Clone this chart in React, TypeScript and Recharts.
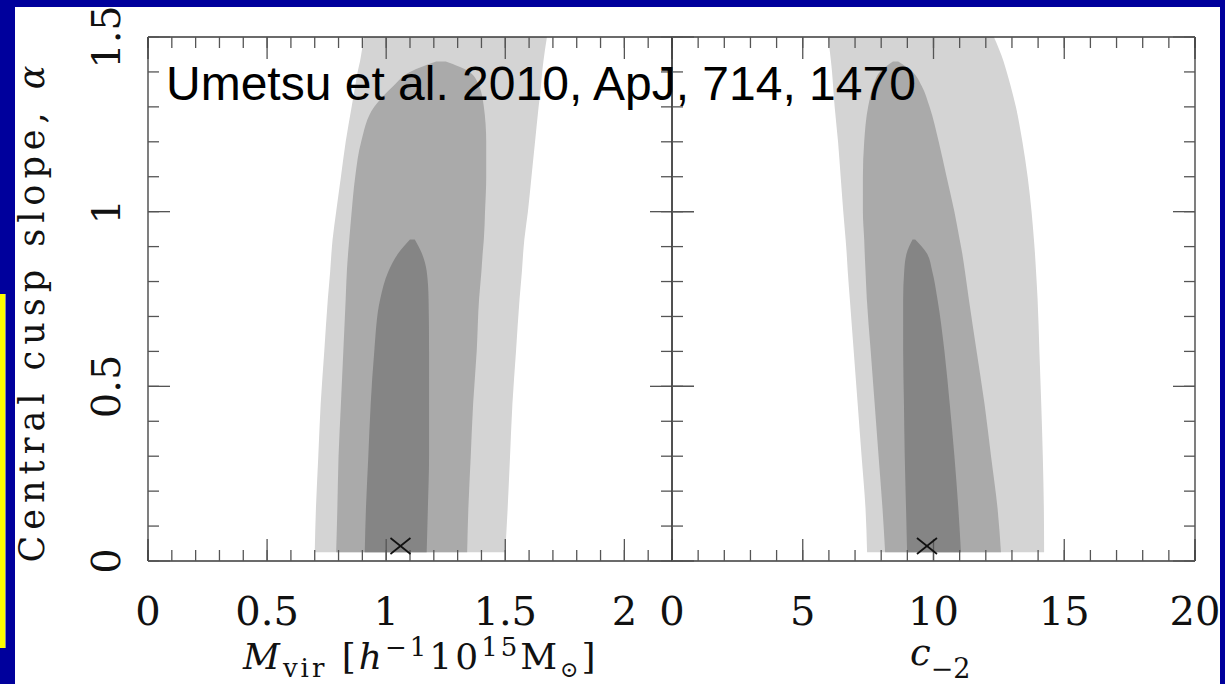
import { ComposedChart, Area, Scatter, XAxis, YAxis } from "recharts"

const BLUE = "#00009c"
const SERIF = "'DejaVu Serif', serif"
const LIGHT = "#d4d4d4"
const MID = "#aaaaaa"
const DARK = "#858585"

// rows in alpha (central cusp slope) where the contour bounds are read
const alphaGrid = [0.025, 0.15, 0.3, 0.45, 0.6, 0.75, 0.83, 0.88, 0.92, 1.0, 1.1, 1.2, 1.3, 1.36, 1.4, 1.43, 1.5]

type Range = [number, number] | null

// left panel, M_vir [left, right] at each alpha row
const mvirOuter: Range[] = [
  [0.70, 1.50], [0.705, 1.51], [0.715, 1.52], [0.725, 1.53], [0.74, 1.545], [0.755, 1.56],
  [0.765, 1.57], [0.77, 1.575], [0.775, 1.58], [0.79, 1.595], [0.81, 1.61], [0.83, 1.625],
  [0.855, 1.64], [0.87, 1.65], [0.88, 1.655], [0.89, 1.66], [0.905, 1.675],
]
const mvirMiddle: Range[] = [
  [0.79, 1.34], [0.795, 1.345], [0.80, 1.355], [0.81, 1.365], [0.82, 1.38], [0.83, 1.39],
  [0.835, 1.40], [0.84, 1.405], [0.845, 1.41], [0.855, 1.415], [0.87, 1.42], [0.895, 1.42],
  [0.95, 1.41], [1.03, 1.39], [1.10, 1.35], [1.21, 1.25], null,
]
const mvirInner: Range[] = [
  [0.91, 1.17], [0.915, 1.175], [0.925, 1.18], [0.935, 1.18], [0.95, 1.18], [0.975, 1.178],
  [1.01, 1.17], [1.05, 1.15], [1.10, 1.12], null, null, null, null, null, null, null, null,
]

// right panel, c_-2 [left, right] at each alpha row
const c2Outer: Range[] = [
  [7.46, 14.23], [7.4, 14.22], [7.25, 14.18], [7.1, 14.12], [6.95, 14.05], [6.8, 13.98],
  [6.72, 13.92], [6.68, 13.88], [6.64, 13.84], [6.55, 13.75], [6.45, 13.6], [6.35, 13.4],
  [6.22, 13.15], [6.16, 12.95], [6.12, 12.8], [6.08, 12.68], [5.97, 12.31],
]
const c2Middle: Range[] = [
  [8.15, 12.58], [8.05, 12.45], [7.9, 12.2], [7.75, 11.95], [7.6, 11.65], [7.45, 11.35],
  [7.4, 11.2], [7.37, 11.1], [7.35, 11.0], [7.3, 10.8], [7.3, 10.5], [7.35, 10.2],
  [7.5, 9.85], [7.7, 9.55], [7.95, 9.2], [8.45, 8.65], null,
]
const c2Inner: Range[] = [
  [8.99, 11.05], [8.95, 10.95], [8.9, 10.8], [8.87, 10.62], [8.84, 10.42], [8.84, 10.15],
  [8.88, 9.95], [8.97, 9.75], [9.2, 9.3], null, null, null, null, null, null, null, null,
]

// best-fit points (the crosses)
const mvirBest = [{ x: 1.06, a: 0.043 }]
const c2Best = [{ x: 9.75, a: 0.043 }]

const mvirTicks = [0, 0.5, 1, 1.5, 2]
const mvirMinor = [0, 0.1, 0.2, 0.3, 0.4, 0.5, 0.6, 0.7, 0.8, 0.9, 1, 1.1, 1.2, 1.3, 1.4, 1.5, 1.6, 1.7, 1.8, 1.9, 2, 2.1, 2.2]
const c2Ticks = [0, 5, 10, 15, 20]
const c2Minor = [0, 1, 2, 3, 4, 5, 6, 7, 8, 9, 10, 11, 12, 13, 14, 15, 16, 17, 18, 19, 20]
const alphaTicks = [0, 0.5, 1, 1.5]
const alphaMinor = [0, 0.1, 0.2, 0.3, 0.4, 0.5, 0.6, 0.7, 0.8, 0.9, 1, 1.1, 1.2, 1.3, 1.4, 1.5]

const frame = { stroke: "#3a3a3a", strokeWidth: 1.3 }
const tickStroke = { stroke: "#555", strokeWidth: 1.3 }
// mirrored tick-only axes: tiny size so they render but do not shift each other
const THIN = 0.01

// tick marks only, no label
const NoLabel = () => <g />

function AlphaTick(props: any) {
  const { x, y, payload } = props
  return (
    <text x={x} y={y} transform={`rotate(-90 ${x} ${y})`} textAnchor="middle"
      fontFamily={SERIF} fontSize={40} fill="#111">
      {String(payload.value)}
    </text>
  )
}

function Cross(props: any) {
  const { cx, cy } = props
  return (
    <g stroke="#111" strokeWidth={1.7}>
      <line x1={cx - 10} y1={cy - 8} x2={cx + 10} y2={cy + 8} />
      <line x1={cx - 10} y1={cy + 8} x2={cx + 10} y2={cy - 8} />
    </g>
  )
}

interface PanelProps {
  outer: Range[]
  middle: Range[]
  inner: Range[]
  best: { x: number; a: number }[]
  domain: [number, number]
  ticks: number[]
  minor: number[]
  left: number
  right: number
  alphaLabels: boolean
}

function Panel(p: PanelProps) {
  const rows = alphaGrid.map((a, i) => ({ a, outer: p.outer[i], middle: p.middle[i], inner: p.inner[i] }))
  const xc = { type: "number" as const, domain: p.domain, allowDataOverflow: true, interval: 0 as const, stroke: "#444" }
  const yc = {
    type: "number" as const, dataKey: "a", domain: [0, 1.5] as [number, number],
    allowDataOverflow: true, reversed: true, interval: 0 as const, stroke: "#444",
  }
  return (
    <div style={{ position: "absolute", left: 0, top: 0 }}>
      <ComposedChart layout="vertical" width={1225} height={684} data={rows}
        margin={{ top: 37, bottom: 63, left: p.alphaLabels ? p.left - 100 : p.left, right: 1225 - p.right }}>
        <XAxis xAxisId="v" {...xc} orientation="bottom" height={60} ticks={p.ticks}
          tickSize={0} tickMargin={36} tickLine={false} axisLine={frame}
          tick={{ fontFamily: SERIF, fontSize: 40, fill: "#111" }} />
        <XAxis xAxisId="bMaj" {...xc} orientation="bottom" mirror height={THIN} ticks={p.ticks}
          tickSize={22} tick={NoLabel} axisLine={false} tickLine={tickStroke} />
        <XAxis xAxisId="bMin" {...xc} orientation="bottom" mirror height={THIN} ticks={p.minor}
          tickSize={11} tick={NoLabel} axisLine={false} tickLine={tickStroke} />
        <XAxis xAxisId="tMaj" {...xc} orientation="top" mirror height={THIN} ticks={p.ticks}
          tickSize={22} tick={NoLabel} axisLine={frame} tickLine={tickStroke} />
        <XAxis xAxisId="tMin" {...xc} orientation="top" mirror height={THIN} ticks={p.minor}
          tickSize={11} tick={NoLabel} axisLine={false} tickLine={tickStroke} />

        {p.alphaLabels ? (
          <YAxis yAxisId="m" {...yc} orientation="left" width={100} ticks={alphaTicks}
            tickSize={0} tickMargin={28} tickLine={false} axisLine={frame} tick={<AlphaTick />} />
        ) : (
          <YAxis yAxisId="m" {...yc} orientation="left" mirror width={THIN} ticks={alphaTicks}
            tickSize={22} tick={NoLabel} axisLine={frame} tickLine={tickStroke} />
        )}
        <YAxis yAxisId="lMaj" {...yc} orientation="left" mirror width={THIN} ticks={alphaTicks}
          tickSize={22} tick={NoLabel} axisLine={false} tickLine={tickStroke} />
        <YAxis yAxisId="lMin" {...yc} orientation="left" mirror width={THIN} ticks={alphaMinor}
          tickSize={11} tick={NoLabel} axisLine={false} tickLine={tickStroke} />
        <YAxis yAxisId="rMaj" {...yc} orientation="right" mirror width={THIN} ticks={alphaTicks}
          tickSize={22} tick={NoLabel} axisLine={frame} tickLine={tickStroke} />
        <YAxis yAxisId="rMin" {...yc} orientation="right" mirror width={THIN} ticks={alphaMinor}
          tickSize={11} tick={NoLabel} axisLine={false} tickLine={tickStroke} />

        <Area xAxisId="v" yAxisId="m" dataKey="outer" type="monotone" stroke="none"
          fill={LIGHT} fillOpacity={1} isAnimationActive={false} />
        <Area xAxisId="v" yAxisId="m" dataKey="middle" type="monotone" stroke="none"
          fill={MID} fillOpacity={1} isAnimationActive={false} />
        <Area xAxisId="v" yAxisId="m" dataKey="inner" type="monotone" stroke="none"
          fill={DARK} fillOpacity={1} isAnimationActive={false} />
        <Scatter xAxisId="v" yAxisId="m" data={p.best} dataKey="x" shape={<Cross />}
          isAnimationActive={false} />
      </ComposedChart>
    </div>
  )
}

export default function App() {
  return (
    <div style={{ position: "absolute", left: 0, top: 0, width: 1225, height: 684, background: BLUE, overflow: "hidden" }}>
      <div style={{ position: "absolute", left: 15, top: 7, width: 1205, height: 677, background: "#fff" }} />
      <div style={{ position: "absolute", left: 0, top: 294, width: 5, height: 354, background: "#ffff00", borderRight: "1px solid #8a8a9a" }} />

      <Panel outer={mvirOuter} middle={mvirMiddle} inner={mvirInner} best={mvirBest}
        domain={[0, 2.2]} ticks={mvirTicks} minor={mvirMinor} left={148} right={672} alphaLabels />
      <Panel outer={c2Outer} middle={c2Middle} inner={c2Inner} best={c2Best}
        domain={[0, 20]} ticks={c2Ticks} minor={c2Minor} left={672} right={1195} alphaLabels={false} />

      <svg width={1225} height={684} style={{ position: "absolute", left: 0, top: 0, pointerEvents: "none" }}>
        <text transform="translate(44 311) rotate(-90)" textAnchor="middle" fontFamily={SERIF}
          fontSize={35} letterSpacing={6} fill="#111">
          Central cusp slope, <tspan fontStyle="italic">α</tspan>
        </text>
        <text x={243} y={669} fontFamily={SERIF} fontSize={36} fill="#111" letterSpacing={3}>
          <tspan fontStyle="italic">M</tspan>
          <tspan fontSize={26} dy={8}>vir</tspan>
          <tspan dy={-8}> [</tspan>
          <tspan fontStyle="italic">h</tspan>
          <tspan fontSize={26} dy={-13}>−1</tspan>
          <tspan dy={13}>10</tspan>
          <tspan fontSize={26} dy={-13}>15</tspan>
          <tspan dy={13}>M</tspan>
          <tspan fontSize={22} dy={8}>⊙</tspan>
          <tspan dy={-8}>]</tspan>
        </text>
        <text x={910} y={665} fontFamily={SERIF} fontSize={37} fill="#111">
          <tspan fontStyle="italic">c</tspan>
          <tspan fontSize={27} dy={13}>−2</tspan>
        </text>
        <text x={166} y={100} fontFamily="'Liberation Sans', Arial, sans-serif" fontSize={48} fill="#000">
          Umetsu et al. 2010, ApJ, 714, 1470
        </text>
      </svg>
    </div>
  )
}
